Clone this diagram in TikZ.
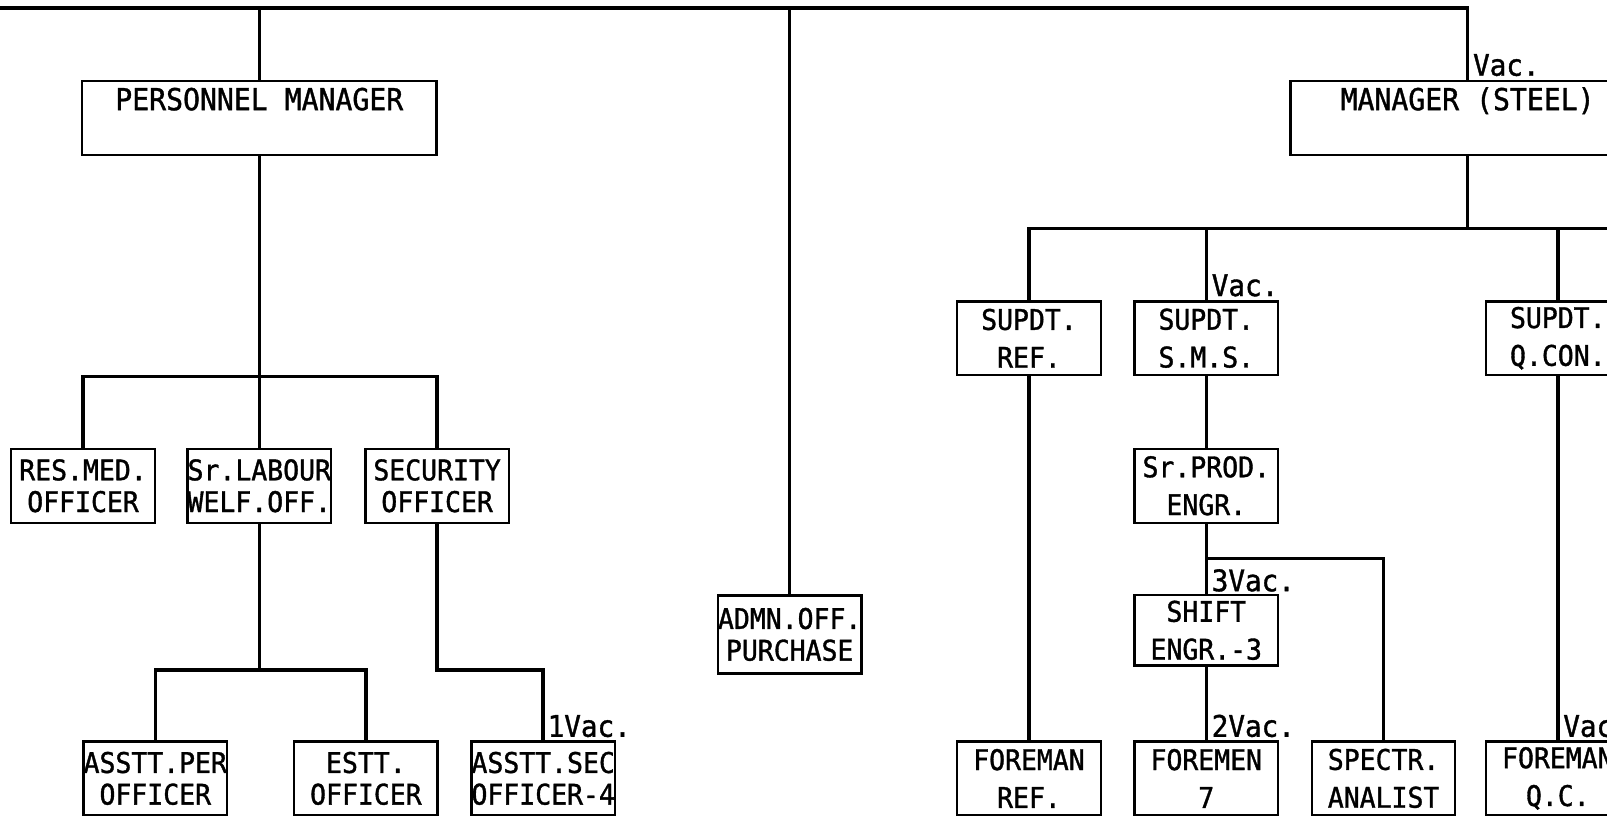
\documentclass[tikz,border=0pt]{standalone}
\usepackage{fontspec}
\setmainfont{DejaVu Sans Mono}[FakeStretch=0.93, FakeBold=1.2]
\usepackage{tikz}
\usetikzlibrary{positioning}

\tikzset{
  post/.style={draw, line width=1.3pt, minimum width=2.8cm, minimum height=1.44cm,
    inner sep=0pt, align=center, font=\fontsize{15.8}{17.6}\selectfont},
  steelpost/.style={post, font=\fontsize{15.8}{21}\selectfont},
  head/.style={draw, line width=1.3pt, minimum width=6.92cm, inner sep=0pt,
    text height=0.57cm, text depth=0.87cm, font=\fontsize{16.8}{18}\selectfont},
  vac/.style={anchor=base west, inner sep=0pt, font=\fontsize{16.5}{18}\selectfont},
  link/.style={line width=1.9pt},
}

\begin{document}
\begin{tikzpicture}[x=0.02cm, y=-0.02cm]
	\useasboundingbox (0,0) rectangle (1568,799);
	\clip (0,0) rectangle (1568,799);

	% heads
	\node[head] (pm) at (253,115) {PERSONNEL MANAGER};
	\node[head] (mgr) at (1432,115) {MANAGER (STEEL)};
	\node[post, minimum width=2.72cm, minimum height=1.52cm] (admn) at (770.5,619) {ADMN.OFF.\\PURCHASE};

	% personnel side
	\node[post] (resmed) at (81,474) {RES.MED.\\OFFICER};
	\node[post] (labour) at (253,474) {Sr.LABOUR\\WELF.OFF.};
	\node[post] (security) at (426.5,474) {SECURITY\\OFFICER};
	\node[post] (asstper) at (151.5,759.5) {ASSTT.PER\\OFFICER};
	\node[post] (estt) at (357,759.5) {ESTT.\\OFFICER};
	\node[post] (asstsec) at (530,759.5) {ASSTT.SEC\\OFFICER-4};

	% steel side
	\node[steelpost] (supref) at (1004,330) {SUPDT.\\REF.};
	\node[steelpost] (supsms) at (1177,330) {SUPDT.\\S.M.S.};
	\node[steelpost] (supqc) at (1520,330) {SUPDT.\\Q.CON.};
	\node[steelpost] (prod) at (1177,474) {Sr.PROD.\\ENGR.};
	\node[steelpost, minimum height=1.38cm] (shift) at (1177,615) {SHIFT\\ENGR.-3};
	\node[steelpost] (foreref) at (1004,759.5) {FOREMAN\\REF.};
	\node[steelpost] (foremen) at (1177,759.5) {FOREMEN\\7};
	\node[steelpost] (spectr) at (1350,759.5) {SPECTR.\\ANALIST};
	\node[steelpost] (foreqc) at (1520,759.5) {FOREMAN\\Q.C.};

	% top line
	\coordinate (topleft) at (0,7.8);
	\draw[link] (topleft) -| (mgr.north);
	\draw[link] (pm.north) -- (pm.north |- topleft);
	\draw[link] (admn.north) -- (admn.north |- topleft);

	% personnel links
	\coordinate (pmbar) at (253,367.5);
	\draw[link] (pm.south) -- (labour.north);
	\draw[link] (resmed.north) |- (pmbar) -| (security.north);
	\coordinate (lwbar) at (253,653.7);
	\draw[link] (labour.south) -- (lwbar);
	\draw[link] (asstper.north) |- (lwbar) -| (estt.north);
	\coordinate (secbar) at (530,653.7);
	\draw[link] (security.south) |- (secbar) -- (asstsec.north);

	% steel links
	\coordinate (steelbar) at (1600,223);
	\draw[link] (mgr.south) -- (mgr.south |- steelbar);
	\draw[link] (supref.north) |- (steelbar);
	\draw[link] (supsms.north) -- (supsms.north |- steelbar);
	\draw[link] (supqc.north) -- (supqc.north |- steelbar);
	\draw[link] (supref.south) -- (foreref.north);
	\draw[link] (supsms.south) -- (prod.north);
	\coordinate (prodbar) at (1350,545);
	\draw[link] (prod.south) |- (prodbar) -- (spectr.north);
	\draw[link] (prod.south) -- (shift.north);
	\draw[link] (shift.south) -- (foremen.north);
	\draw[link] (supqc.south) -- (foreqc.north);

	% vacancies
	\node[vac] (vacmgr) at ([xshift=0.1cm,yshift=0.08cm]mgr.north) {Vac.};
	\node[vac] (vacsms) at ([xshift=0.1cm,yshift=0.08cm]supsms.north) {Vac.};
	\node[vac] (vacshift) at ([xshift=0.1cm,yshift=0.05cm]shift.north) {3Vac.};
	\node[vac] (vacforemen) at ([xshift=0.1cm,yshift=0.07cm]foremen.north) {2Vac.};
	\node[vac] (vacsec) at ([xshift=0.08cm,yshift=0.07cm]asstsec.north) {1Vac.};
	\node[vac] (vacqc) at ([xshift=0.1cm,yshift=0.07cm]foreqc.north) {Vac.};
\end{tikzpicture}
\end{document}
